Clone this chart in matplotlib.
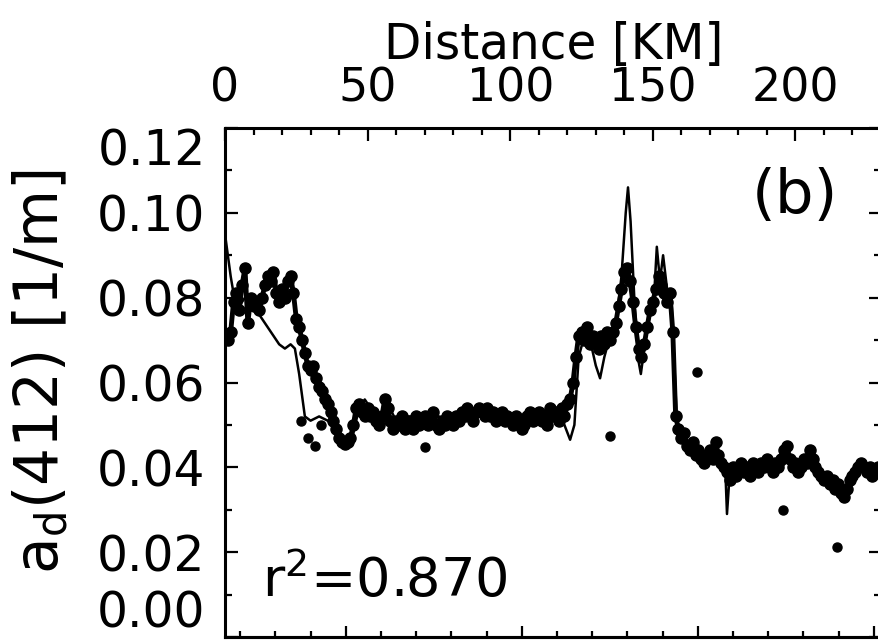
import numpy as np
import matplotlib
matplotlib.use("Agg")
import matplotlib.pyplot as plt
from matplotlib.ticker import MultipleLocator, FixedLocator, FuncFormatter
from matplotlib.transforms import blended_transform_factory, ScaledTranslation

plt.rcParams['font.family'] = 'DejaVu Sans'

# measured a_d(412), one sample per km along the transect
meas_vals = [
    0.071, 0.070, 0.072, 0.079, 0.081, 0.077, 0.083, 0.087, 0.074, 0.080,
    0.078, 0.079, 0.077, 0.080, 0.083, 0.085, 0.084, 0.086, 0.081, 0.079,
    0.082, 0.080, 0.084, 0.085, 0.081, 0.075, 0.073, 0.070, 0.067, 0.064,
    0.063, 0.064, 0.061, 0.059, 0.058, 0.056, 0.055, 0.053, 0.051, 0.049,
    0.047, 0.046, 0.0455, 0.046, 0.047, 0.050, 0.054, 0.055, 0.053, 0.052,
    0.054, 0.052, 0.053, 0.051, 0.050, 0.052, 0.056, 0.054, 0.051, 0.049,
    0.051, 0.050, 0.052, 0.049, 0.051, 0.050, 0.049, 0.052, 0.050, 0.051,
    0.052, 0.050, 0.051, 0.053, 0.050, 0.049, 0.051, 0.050, 0.052, 0.051,
    0.050, 0.052, 0.051, 0.053, 0.052, 0.054, 0.053, 0.051, 0.053, 0.054,
    0.053, 0.052, 0.054, 0.052, 0.053, 0.051, 0.052, 0.053, 0.051, 0.052,
    0.051, 0.050, 0.052, 0.051, 0.049, 0.050, 0.052, 0.053, 0.051, 0.052,
    0.053, 0.051, 0.052, 0.050, 0.054, 0.052, 0.053, 0.051, 0.054, 0.052,
    0.055, 0.056, 0.060, 0.066, 0.071, 0.072, 0.070, 0.073, 0.069, 0.071,
    0.070, 0.068, 0.071, 0.069, 0.072, 0.070, 0.072, 0.074, 0.078, 0.082,
    0.086, 0.087, 0.084, 0.079, 0.073, 0.068, 0.066, 0.069, 0.073, 0.077,
    0.079, 0.082, 0.085, 0.083, 0.081, 0.079, 0.081, 0.072, 0.052, 0.049,
    0.047, 0.048, 0.045, 0.044, 0.046, 0.043, 0.044, 0.042, 0.041, 0.043,
    0.044, 0.042, 0.046, 0.043, 0.041, 0.040, 0.039, 0.037, 0.040, 0.038,
    0.039, 0.041, 0.039, 0.040, 0.038, 0.041, 0.040, 0.039, 0.041, 0.040,
    0.042, 0.040, 0.039, 0.041, 0.040, 0.042, 0.044, 0.045, 0.042, 0.040,
    0.041, 0.039, 0.040, 0.042, 0.041, 0.044, 0.042, 0.040, 0.039, 0.038,
    0.037, 0.038, 0.036, 0.037, 0.035, 0.036, 0.034, 0.033, 0.035, 0.037,
    0.038, 0.039, 0.040, 0.041, 0.040, 0.039, 0.040, 0.038, 0.039, 0.040,
]
meas_km = np.arange(len(meas_vals))

# isolated measured points off the main track
out_km = [26.5, 29.0, 31.5, 33.5, 70.1, 135.0, 165.5, 195.7, 214.6]
out_vals = [0.051, 0.047, 0.045, 0.050, 0.0448, 0.0474, 0.0625, 0.030, 0.0212]

# modelled a_d(412)
mod_km = [0.0, 1.0, 2.0, 3.5, 5.0, 7.0, 9.0, 11.0, 13.0, 15.0, 17.0, 19.0, 21.0,
          23.0, 24.5, 26.0, 27.0, 28.0, 30.0, 33.0, 36.0, 38.0, 40.0, 42.0, 43.5,
          45.0, 47.0, 49.0, 52.0, 55.0, 57.0, 60.0, 65.0, 70.0, 75.0, 80.0, 85.0,
          90.0, 95.0, 100.0, 105.0, 110.0, 114.0, 117.0, 119.0, 121.0, 122.5,
          124.0, 126.0, 128.0, 130.0, 131.5, 133.0, 135.0, 137.0, 139.0, 140.5,
          141.3, 142.2, 143.5, 145.0, 145.8, 147.0, 149.0, 150.5, 151.4, 152.5,
          153.6, 155.0, 156.5, 157.5, 158.5, 160.0, 163.0, 166.0, 169.0, 172.0,
          174.0, 175.5, 176.0, 176.7, 178.0, 181.0, 185.0, 190.0, 195.0, 198.0,
          202.0, 206.0, 210.0, 213.0, 216.0, 218.0, 221.0, 225.0, 229.0]
mod_vals = [0.095, 0.090, 0.085, 0.079, 0.078, 0.080, 0.078, 0.077, 0.075, 0.073,
            0.071, 0.069, 0.068, 0.069, 0.068, 0.062, 0.057, 0.052, 0.051, 0.052,
            0.051, 0.050, 0.047, 0.046, 0.0455, 0.048, 0.054, 0.056, 0.053, 0.052,
            0.055, 0.051, 0.052, 0.051, 0.052, 0.051, 0.053, 0.053, 0.052, 0.051,
            0.052, 0.051, 0.052, 0.053, 0.050, 0.0465, 0.050, 0.066, 0.071, 0.070,
            0.064, 0.061, 0.066, 0.071, 0.073, 0.085, 0.100, 0.106, 0.098, 0.080,
            0.065, 0.062, 0.068, 0.077, 0.081, 0.092, 0.084, 0.090, 0.082, 0.080,
            0.065, 0.050, 0.047, 0.045, 0.043, 0.042, 0.044, 0.041, 0.038, 0.029,
            0.036, 0.039, 0.038, 0.040, 0.041, 0.040, 0.042, 0.041, 0.040, 0.038,
            0.037, 0.036, 0.035, 0.038, 0.040, 0.039]

y_ticks = [0.0, 0.02, 0.04, 0.06, 0.08, 0.10, 0.12]

# ticks of the (unlabelled) lower axis, in km positions
bottom_major = [42.4, 104.1, 165.8, 227.5]
bottom_minor = [5.4, 17.7, 30.1, 54.7, 67.1, 79.4, 91.8, 116.5, 128.8, 141.1,
                153.5, 178.2, 190.5, 202.8, 215.2]

fig = plt.figure(figsize=(8.79, 6.41), dpi=100)
ax = fig.add_axes([225 / 879, 4 / 641, 656 / 879, 509 / 641])

ax.plot(meas_km, meas_vals, '-o', color='black', lw=3.5, ms=8, mec='black')
ax.plot(out_km, out_vals, 'o', color='black', ms=6.5)
ax.plot(mod_km, mod_vals, '-', color='black', lw=1.8)

ax.set_xlim(0, 230)
ax.set_ylim(y_ticks[0], y_ticks[-1])

for s in ax.spines.values():
    s.set_linewidth(2.2)

ax.xaxis.set_major_locator(MultipleLocator(50))
ax.xaxis.set_minor_locator(MultipleLocator(10))
ax.yaxis.set_major_locator(FixedLocator(y_ticks))
ax.yaxis.set_minor_locator(MultipleLocator(0.01))

# end labels are drawn separately so they stay inside the frame
def ylab(v, pos):
    if v == y_ticks[0] or v == y_ticks[-1]:
        return ''
    return '%.2f' % v
ax.yaxis.set_major_formatter(FuncFormatter(ylab))

ax.tick_params(axis='x', which='both', direction='in', top=True, bottom=False,
               labeltop=True, labelbottom=False, labelsize=33, pad=12)
ax.tick_params(axis='y', which='both', direction='in', left=True, right=True,
               labelsize=35, pad=14)
ax.tick_params(which='major', length=9, width=1.6)
ax.tick_params(which='minor', length=5, width=1.6)

trans = blended_transform_factory(ax.transAxes, ax.transData) + \
    ScaledTranslation(-14 / 72, 0, fig.dpi_scale_trans)
ax.text(0, y_ticks[0], '%.2f' % y_ticks[0], transform=trans, ha='right', va='bottom', fontsize=35)
ax.text(0, y_ticks[-1], '%.2f' % y_ticks[-1], transform=trans, ha='right', va='top', fontsize=35)

secax = ax.secondary_xaxis('bottom')
secax.xaxis.set_major_locator(FixedLocator(bottom_major))
secax.xaxis.set_minor_locator(FixedLocator(bottom_minor))
secax.tick_params(which='both', direction='in', labelbottom=False, width=1.6)
secax.tick_params(which='major', length=8)
secax.tick_params(which='minor', length=4)
secax.spines['bottom'].set_linewidth(2.2)

fig.text(554 / 879, 1 - 45 / 641, 'Distance [KM]', ha='center', va='center', fontsize=35)
fig.text(42 / 879, 1 - 372 / 641, r'a$_\mathrm{d}$(412) [1/m]', rotation=90,
         ha='center', va='center', fontsize=43)

ax.text(13, 0.0094, r'r$^\mathrm{2}$=0.870', fontsize=39, va='baseline', ha='left')
ax.text(200, 0.1038, '(b)', fontsize=44, ha='center', va='center')

fig.savefig('out.png', dpi=100)
